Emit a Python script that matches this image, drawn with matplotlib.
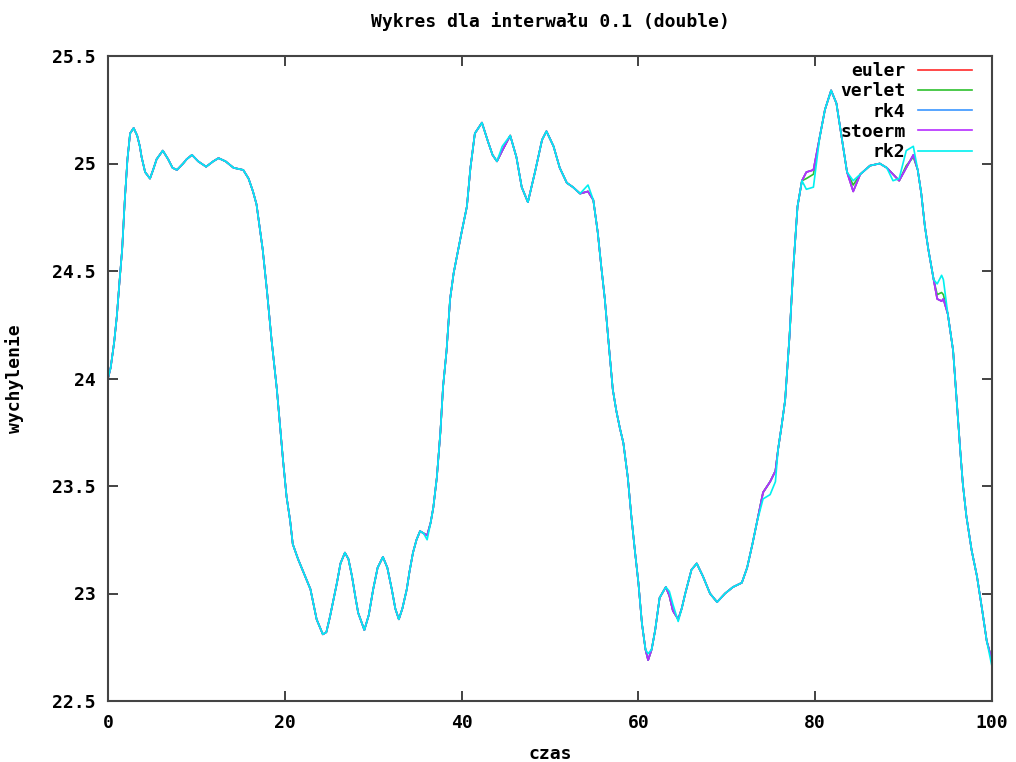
#!/usr/bin/env python3
"""Wykres wychylenia w czasie dla pieciu metod calkowania (interwal 0.1)."""

import matplotlib

matplotlib.use("Agg")
import matplotlib.pyplot as plt


# czas i wychylenie (stoerm, euler i rk4 pokrywaja sie)
czas = [
    0.0, 0.3, 0.7, 1.0, 1.3, 1.6, 1.9, 2.2, 2.5, 2.9, 3.3, 3.6, 3.8, 4.2, 4.75,
    5.1, 5.5, 6.2, 6.8, 7.3, 7.8, 8.5, 8.9, 9.5, 10.2, 11.1, 11.9, 12.5, 13.3,
    14.2, 15.3, 15.9, 16.4, 16.8, 17.5, 18.0, 18.5, 19.1, 19.5, 19.8, 20.2,
    20.6, 20.9, 21.5, 22.3, 22.9, 23.6, 24.3, 24.7, 25.1, 25.5, 25.9, 26.3,
    26.8, 27.2, 27.6, 28.0, 28.3, 29.0, 29.5, 30.0, 30.5, 31.1, 31.6, 32.1,
    32.5, 32.9, 33.3, 33.8, 34.1, 34.5, 34.9, 35.3, 35.7, 36.1, 36.5, 36.8,
    37.2, 37.6, 37.9, 38.3, 38.7, 39.1, 40.0, 40.6, 41.0, 41.5, 42.3, 43.0,
    43.5, 44.0, 44.6, 45.5, 46.2, 46.8, 47.5, 48.3, 49.1, 49.6, 50.4, 51.1,
    51.9, 52.6, 53.4, 54.3, 54.9, 55.4, 55.8, 56.2, 56.6, 57.1, 57.5, 57.9,
    58.3, 58.8, 59.2, 59.6, 60.0, 60.4, 60.8, 61.1, 61.5, 61.9, 62.4, 63.1,
    63.5, 63.9, 64.5, 64.9, 65.3, 66.0, 66.6, 67.3, 68.1, 68.9, 69.8, 70.7,
    71.7, 72.3, 72.9, 73.4, 74.1, 74.9, 75.5, 75.8, 76.2, 76.6, 77.1, 77.5,
    78.0, 78.5, 79.0, 79.8, 80.5, 81.1, 81.8, 82.4, 83.0, 83.6, 84.3, 85.1,
    86.2, 87.3, 88.1, 88.8, 89.5, 90.3, 91.1, 91.6, 92.0, 92.4, 92.8, 93.4,
    93.8, 94.3, 94.5, 95.0, 95.6, 96.0, 96.4, 96.7, 97.1, 97.7, 98.3, 98.9,
    99.4, 100.0,
]

stoerm = [
    24.00, 24.05, 24.17, 24.29, 24.45, 24.60, 24.83, 25.02, 25.14, 25.165,
    25.13, 25.08, 25.03, 24.96, 24.93, 24.97, 25.02, 25.06, 25.02, 24.98,
    24.97, 25.00, 25.02, 25.04, 25.01, 24.985, 25.01, 25.025, 25.01, 24.98,
    24.97, 24.93, 24.87, 24.81, 24.60, 24.40, 24.18, 23.95, 23.76, 23.62,
    23.45, 23.34, 23.23, 23.16, 23.08, 23.02, 22.88, 22.81, 22.82, 22.89,
    22.97, 23.05, 23.14, 23.19, 23.16, 23.08, 22.98, 22.91, 22.83, 22.90,
    23.02, 23.12, 23.17, 23.12, 23.02, 22.93, 22.88, 22.93, 23.02, 23.10,
    23.19, 23.25, 23.29, 23.28, 23.27, 23.33, 23.40, 23.54, 23.75, 23.96,
    24.13, 24.37, 24.49, 24.68, 24.80, 24.98, 25.14, 25.19, 25.10, 25.04,
    25.01, 25.06, 25.13, 25.03, 24.89, 24.82, 24.96, 25.11, 25.15, 25.08,
    24.98, 24.91, 24.89, 24.86, 24.87, 24.83, 24.68, 24.52, 24.37, 24.18,
    23.95, 23.85, 23.77, 23.70, 23.54, 23.36, 23.20, 23.05, 22.86, 22.74,
    22.69, 22.74, 22.83, 22.98, 23.03, 22.99, 22.92, 22.88, 22.93, 23.00,
    23.11, 23.14, 23.08, 23.00, 22.96, 23.00, 23.03, 23.05, 23.12, 23.23,
    23.33, 23.47, 23.52, 23.57, 23.67, 23.78, 23.90, 24.20, 24.50, 24.80,
    24.92, 24.96, 24.97, 25.12, 25.25, 25.34, 25.28, 25.12, 24.96, 24.87,
    24.95, 24.99, 25.00, 24.98, 24.95, 24.92, 24.98, 25.04, 24.97, 24.86,
    24.71, 24.60, 24.46, 24.37, 24.36, 24.37, 24.30, 24.13, 23.90, 23.67,
    23.51, 23.36, 23.20, 23.08, 22.92, 22.78, 22.69,
]

euler = stoerm
rk4 = stoerm

# verlet odbiega od reszty tylko w kilku miejscach (czas -> wychylenie)
verlet_inne = {
    79.0: 24.93, 79.8: 24.95, 84.3: 24.90, 90.3: 24.99, 91.1: 25.03,
    93.8: 24.39, 94.3: 24.40, 94.5: 24.39,
}

# rk2 odbiega wyrazniej (czas -> wychylenie)
rk2_inne = {
    36.1: 23.25, 44.6: 25.08, 54.3: 24.90, 61.1: 22.72, 63.5: 23.01,
    63.9: 22.95, 64.5: 22.87, 74.1: 23.44, 74.9: 23.46, 75.5: 23.52,
    79.0: 24.88, 79.8: 24.89, 84.3: 24.92, 88.8: 24.92, 89.5: 24.93,
    90.3: 25.06, 91.1: 25.08, 93.8: 24.44, 94.3: 24.48, 94.5: 24.46,
    100.0: 22.66,
}

verlet = [verlet_inne.get(t, y) for t, y in zip(czas, stoerm)]
rk2 = [rk2_inne.get(t, y) for t, y in zip(czas, stoerm)]

SERIE = [
    ("euler", euler, "#ff2a2a"),
    ("verlet", verlet, "#2ec02e"),
    ("rk4", rk4, "#3a96ff"),
    ("stoerm", stoerm, "#b52cff"),
    ("rk2", rk2, "#00f0f0"),
]


def main() -> None:
    plt.rcParams["font.family"] = ["DejaVu Sans Mono"]
    plt.rcParams["font.weight"] = "bold"
    plt.rcParams["font.size"] = 13

    fig = plt.figure(figsize=(10.16, 7.62), dpi=100)
    ax = fig.add_axes([108 / 1016, 1 - 701 / 762, 884 / 1016, 645 / 762])

    for nazwa, wartosci, kolor in SERIE:
        ax.plot(czas, wartosci, color=kolor, linewidth=1.2, label=nazwa)

    ax.set_xlim(0, 100)
    ax.set_ylim(22.5, 25.5)
    ax.set_xticks([0, 20, 40, 60, 80, 100])
    ax.set_yticks([22.5, 23, 23.5, 24, 24.5, 25, 25.5])
    ax.set_yticklabels(["22.5", "23", "23.5", "24", "24.5", "25", "25.5"])
    ax.tick_params(direction="in", length=7, width=1.2, top=True, right=True,
                   colors="#222222", labelcolor="black", pad=9, labelsize=13)
    for spine in ax.spines.values():
        spine.set_linewidth(1.5)
        spine.set_color("#444444")

    ax.set_title("Wykres dla interwału 0.1 (double)", fontsize=13,
                 fontweight="bold", pad=21)
    ax.set_xlabel("czas", fontsize=13, fontweight="bold", labelpad=10)
    ax.set_ylabel("wychylenie", fontsize=13, fontweight="bold", labelpad=20)

    ax.legend(loc="upper right", bbox_to_anchor=(0.990, 1.007),
              markerfirst=False, frameon=False, handlelength=3.0,
              handletextpad=0.7, labelspacing=0.12, borderaxespad=0.2,
              fontsize=13)

    fig.savefig("out.png", dpi=100)
    plt.close(fig)


if __name__ == "__main__":
    main()
